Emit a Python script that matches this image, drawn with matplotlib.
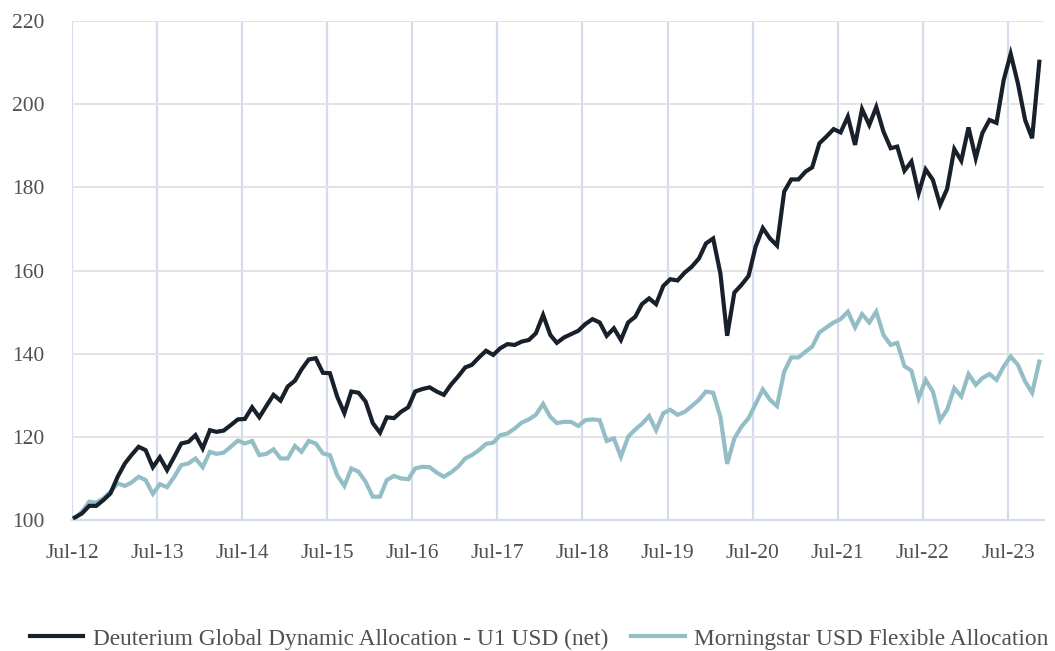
import pandas as pd
import numpy as np
import matplotlib.pyplot as plt

# monthly index values, Jul-12 .. Nov-23
deuterium = [100.6, 101.6, 103.4, 103.4, 104.8, 106.4, 110.4, 113.6, 115.6, 117.6, 116.8, 112.7,
             115.1, 112.0, 115.2, 118.4, 118.8, 120.4, 117.2, 121.6, 121.2, 121.5, 122.8, 124.2,
             124.3, 127.1, 124.7, 127.4, 130.1, 128.7, 132.1, 133.5, 136.2, 138.6, 138.9, 135.4,
             135.3, 129.7, 125.7, 130.9, 130.6, 128.5, 123.3, 121.0, 124.7, 124.5, 126.0, 127.1,
             130.9, 131.5, 131.9, 130.9, 130.1, 132.5, 134.5, 136.7, 137.3, 139.1, 140.7, 139.7,
             141.3, 142.3, 142.1, 142.9, 143.3, 144.9, 149.3, 144.5, 142.6, 143.9, 144.7, 145.5,
             147.1, 148.3, 147.5, 144.3, 146.1, 143.3, 147.5, 148.9, 151.9, 153.3, 151.9, 156.3,
             157.9, 157.6, 159.5, 160.9, 162.9, 166.5, 167.7, 159.3, 144.3, 154.7, 156.5, 158.7,
             165.7, 170.2, 167.7, 166.0, 179.0, 181.9, 181.9, 183.8, 184.8, 190.6, 192.2, 194.0,
             193.2, 197.0, 190.2, 198.8, 195.0, 199.3, 193.4, 189.4, 189.8, 184.0, 186.2, 178.6,
             184.3, 181.8, 175.8, 179.6, 189.2, 186.4, 194.4, 187.0, 193.0, 196.2, 195.5, 205.8,
             212.1, 205.0, 196.2, 191.8, 210.2]

morningstar = [100.3, 102.0, 104.4, 104.2, 105.2, 106.8, 108.8, 108.2, 109.0, 110.4, 109.6, 106.3,
               108.6, 107.9, 110.4, 113.2, 113.6, 114.8, 112.7, 116.4, 115.9, 116.2, 117.6, 119.1,
               118.4, 119.0, 115.6, 115.9, 117.0, 114.8, 114.8, 117.8, 116.4, 119.0, 118.4, 116.0,
               115.6, 110.8, 108.2, 112.4, 111.6, 109.2, 105.6, 105.6, 109.6, 110.6, 110.0, 109.8,
               112.4, 112.8, 112.7, 111.4, 110.4, 111.4, 112.8, 114.8, 115.6, 116.8, 118.3, 118.6,
               120.4, 120.8, 122.0, 123.4, 124.2, 125.3, 127.9, 124.8, 123.3, 123.6, 123.6, 122.6,
               124.0, 124.2, 124.0, 119.0, 119.6, 115.2, 120.0, 121.8, 123.1, 125.0, 121.6, 125.7,
               126.5, 125.3, 126.0, 127.4, 128.9, 130.9, 130.6, 124.8, 113.5, 119.6, 122.4, 124.5,
               127.9, 131.4, 128.9, 127.4, 135.7, 139.1, 139.1, 140.5, 141.7, 145.1, 146.3, 147.5,
               148.3, 150.1, 146.3, 149.5, 147.5, 150.1, 144.5, 142.1, 142.6, 137.0, 135.9, 129.3,
               133.7, 130.9, 124.0, 126.5, 131.7, 129.7, 135.1, 132.5, 134.1, 135.1, 133.7, 136.9,
               139.3, 137.3, 133.3, 130.6, 138.1]

series_names = ['Deuterium Global Dynamic Allocation - U1 USD (net)', 'Morningstar USD Flexible Allocation']
tick_labels = ['Jul-12', 'Jul-13', 'Jul-14', 'Jul-15', 'Jul-16', 'Jul-17',
               'Jul-18', 'Jul-19', 'Jul-20', 'Jul-21', 'Jul-22', 'Jul-23']
y_ticks = [100, 120, 140, 160, 180, 200, 220]

# mid-month dates
dates = pd.date_range('2012-07-01', periods=len(deuterium), freq='MS') + pd.Timedelta(days=12)
july_ticks = pd.date_range('2012-07-01', periods=len(tick_labels), freq='12MS')

plt.rcParams['font.family'] = ['Liberation Serif', 'DejaVu Serif']
text_grey = '#505050'

fig = plt.figure(figsize=(10.55, 6.51), dpi=100)
ax = fig.add_axes([72/1055, 1 - 520/651, (1044 - 72)/1055, (520 - 21)/651])

grid_blue = '#d3dbec'
for t in july_ticks:
    ax.axvline(t, color=grid_blue, lw=1.6, zorder=0)
for v in y_ticks[1:]:
    ax.axhline(v, color='#e3e3e3', lw=1.4, zorder=0)

ax.plot(dates, deuterium, color='#17202b', lw=3, solid_joinstyle='miter', label=series_names[0], zorder=3)
ax.plot(dates, morningstar, color='#94bec6', lw=3, solid_joinstyle='miter', label=series_names[1], zorder=2)

ax.set_xlim(pd.Timestamp('2012-07-01'), pd.Timestamp('2023-12-03'))
ax.set_ylim(100, 220)
ax.set_xticks(july_ticks)
ax.set_xticklabels(tick_labels)
ax.set_yticks(y_ticks)
ax.tick_params(axis='both', length=0, labelcolor=text_grey)
ax.tick_params(axis='x', pad=17, labelsize=15.5)
ax.tick_params(axis='y', pad=20, labelsize=15.5)

for s in ['top', 'right', 'left']:
    ax.spines[s].set_visible(False)
ax.spines['bottom'].set_color(grid_blue)
ax.spines['bottom'].set_linewidth(1.6)

fig.legend(loc='lower center', bbox_to_anchor=(0.511, -0.03), ncol=2, frameon=False,
           fontsize=16.8, handlelength=2.3, handletextpad=0.4, columnspacing=1.0,
           labelcolor=text_grey)

fig.savefig('out.png', dpi=100)
